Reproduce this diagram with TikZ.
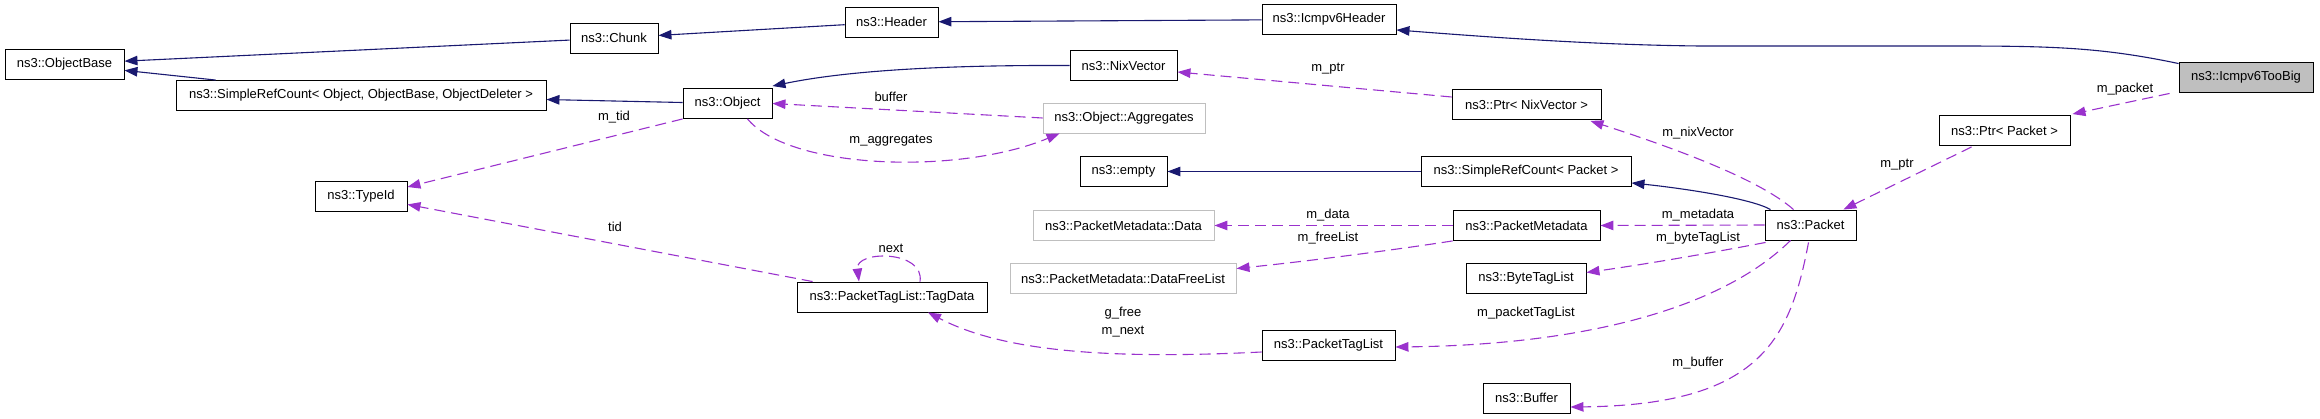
\documentclass[tikz,border=0pt]{standalone}
\usepackage{fontspec}
\setmainfont{Liberation Sans}
\usetikzlibrary{arrows.meta,calc}
\definecolor{inhblue}{HTML}{191970}
\definecolor{usepurple}{HTML}{9A32CD}
\definecolor{extgray}{HTML}{BFBFBF}
\begin{document}
\begin{tikzpicture}[x=1pt, y=-1pt,
    cls/.style={draw, rectangle, inner sep=0pt, minimum height=30pt, line width=0.9pt, font=\fontsize{13}{15}\selectfont},
    ext/.style={cls, draw=extgray},
    inh/.style={color=inhblue, line width=1.1pt, -{Triangle[length=13pt,width=9.5pt]}},
    mem/.style={color=usepurple, line width=1.1pt, dash pattern=on 11pt off 6pt, -{Triangle[length=13pt,width=9.5pt]}},
    lbl/.style={inner sep=0pt, text=black, font=\fontsize{13}{15}\selectfont}]
              \useasboundingbox (0,0) rectangle (2320,419);

              \node [cls, minimum width=119pt] (base) at (64.5, 64) {ns3::ObjectBase};
              \node [cls, minimum width=88pt] (chunk) at (614, 38) {ns3::Chunk};
              \node [cls, minimum width=93pt] (header) at (891.5, 22) {ns3::Header};
              \node [cls, minimum width=134pt] (icmphdr) at (1329, 19.5) {ns3::Icmpv6Header};
              \node [cls, minimum width=134pt, fill=extgray] (toobig) at (2246, 77) {ns3::Icmpv6TooBig};
              \node [cls, minimum width=370pt] (srcobj) at (361, 95.5) {ns3::SimpleRefCount< Object, ObjectBase, ObjectDeleter >};
              \node [cls, minimum width=89pt] (object) at (727.5, 103.5) {ns3::Object};
              \node [cls, minimum width=92pt] (typeid) at (361, 196) {ns3::TypeId};
              \node [cls, minimum width=107pt] (nix) at (1123.5, 65.5) {ns3::NixVector};
              \node [ext, minimum width=162pt] (aggr) at (1124, 118) {ns3::Object::Aggregates};
              \node [cls, minimum width=149pt] (ptrnix) at (1526.5, 104.5) {ns3::Ptr< NixVector >};
              \node [cls, minimum width=87pt] (empty) at (1123.5, 171.5) {ns3::empty};
              \node [cls, minimum width=210pt] (srcpkt) at (1526, 171.5) {ns3::SimpleRefCount< Packet >};
              \node [cls, minimum width=131pt] (ptrpkt) at (2004.5, 130.5) {ns3::Ptr< Packet >};
              \node [cls, minimum width=190pt] (tagdata) at (892, 297) {ns3::PacketTagList::TagData};
              \node [ext, minimum width=181pt] (mdata) at (1123.5, 225.5) {ns3::PacketMetadata::Data};
              \node [ext, minimum width=226pt] (mfree) at (1123, 278.5) {ns3::PacketMetadata::DataFreeList};
              \node [cls, minimum width=147pt] (pmeta) at (1526.5, 225.5) {ns3::PacketMetadata};
              \node [cls, minimum width=120pt] (btl) at (1526, 278.5) {ns3::ByteTagList};
              \node [cls, minimum width=133pt] (ptl) at (1328.5, 345) {ns3::PacketTagList};
              \node [cls, minimum width=87pt] (buffer) at (1526.5, 398) {ns3::Buffer};
              \node [cls, minimum width=91pt] (packet) at (1810.5, 225) {ns3::Packet};

              \draw [inh] (chunk) -- (base);
              \draw [inh] (srcobj) -- (base);
              \draw [inh] (object) -- (srcobj);
              \draw [inh] (header) -- (chunk);
              \draw [inh] (icmphdr) -- (header);
              \draw [inh] ($(toobig.north west)+(0,2)$) .. controls (2100,47) and (2050,46) .. (1950,46)
                    -- (1700,46) .. controls (1600,45) and (1500,38) .. ($(icmphdr.south east)+(0,-5)$);
              \draw [inh] (nix.west) .. controls (950,65) and (850,70) .. ($(object.north east)+(0,-2)$);
              \draw [inh] (srcpkt) -- (empty);
              \draw [inh] ($(packet.north west)+(6,0)$) .. controls (1750,198) and (1680,188) .. ($(srcpkt.south east)+(0,-4)$);

              \draw [mem] (object.south west) -- ($(typeid.east)+(0,-9)$) node [lbl] at (614,117) {m\_tid};
              \draw [mem] ($(tagdata.north west)+(16,0)$) -- ($(typeid.south east)+(0,-7)$) node [lbl] at (615,227) {tid};
              \draw [mem] (aggr.west) -- (object.east) node [lbl] at (891,97) {buffer};
              \draw [mem] ($(object.south)+(20,0)$) .. controls (790,170) and (960,175) .. ($(aggr.south west)+(17,0)$)
                    node [lbl] at (891,141) {m\_aggregates};
              \draw [mem] ($(ptrnix.west)+(0,-7.5)$) -- ($(nix.east)+(0,6.5)$) node [lbl] at (1328,69) {m\_ptr};
              \draw [mem] ($(packet.north)+(-17,0)$) .. controls (1760,180) and (1680,150) .. ($(ptrnix.south east)+(-11,1)$)
                    node [lbl] at (1698,133) {m\_nixVector};
              \draw [mem] ($(ptrpkt.south west)+(33,1)$) -- ($(packet.north east)+(-13,0)$) node [lbl] at (1897,165) {m\_ptr};
              \draw [mem] ($(toobig.south west)+(-9,1)$) -- ($(ptrpkt.north east)+(2,-1)$) node [lbl] at (2125,89) {m\_packet};
              \draw [mem] (packet.west) -- (pmeta.east) node [lbl] at (1698,215) {m\_metadata};
              \draw [mem] ($(packet.south west)+(1,2)$) .. controls (1700,255) and (1640,265) .. ($(btl.east)+(0,-6)$)
                    node [lbl] at (1698,238) {m\_byteTagList};
              \draw [mem] ($(packet.south west)+(26,0)$) .. controls (1720,310) and (1580,345) .. ($(ptl.east)+(0,2)$)
                    node [lbl] at (1526,313) {m\_packetTagList};
              \draw [mem] ($(packet.south)+(-2,2)$) .. controls (1790,340) and (1760,405) .. ($(buffer.east)+(0,9)$)
                    node [lbl] at (1698,363) {m\_buffer};
              \draw [mem] (pmeta.west) -- (mdata.east) node [lbl] at (1328,215) {m\_data};
              \draw [mem] (pmeta.south west) .. controls (1380,252) and (1300,262) .. ($(mfree.east)+(0,-10)$)
                    node [lbl] at (1328,238) {m\_freeList};
              \draw [mem] ($(ptl.west)+(0,7)$) .. controls (1100,360) and (1000,350) .. ($(tagdata.south)+(36,0)$)
                    node [lbl, align=center] at (1123,322.5) {g\_free\\[3pt]m\_next};
              \draw [mem] ($(tagdata.north)+(28,0)$) .. controls (925,250) and (855,250) .. ($(tagdata.north)+(-33,0)$)
                    node [lbl] at (891,248) {next};
            \end{tikzpicture}
\end{document}
